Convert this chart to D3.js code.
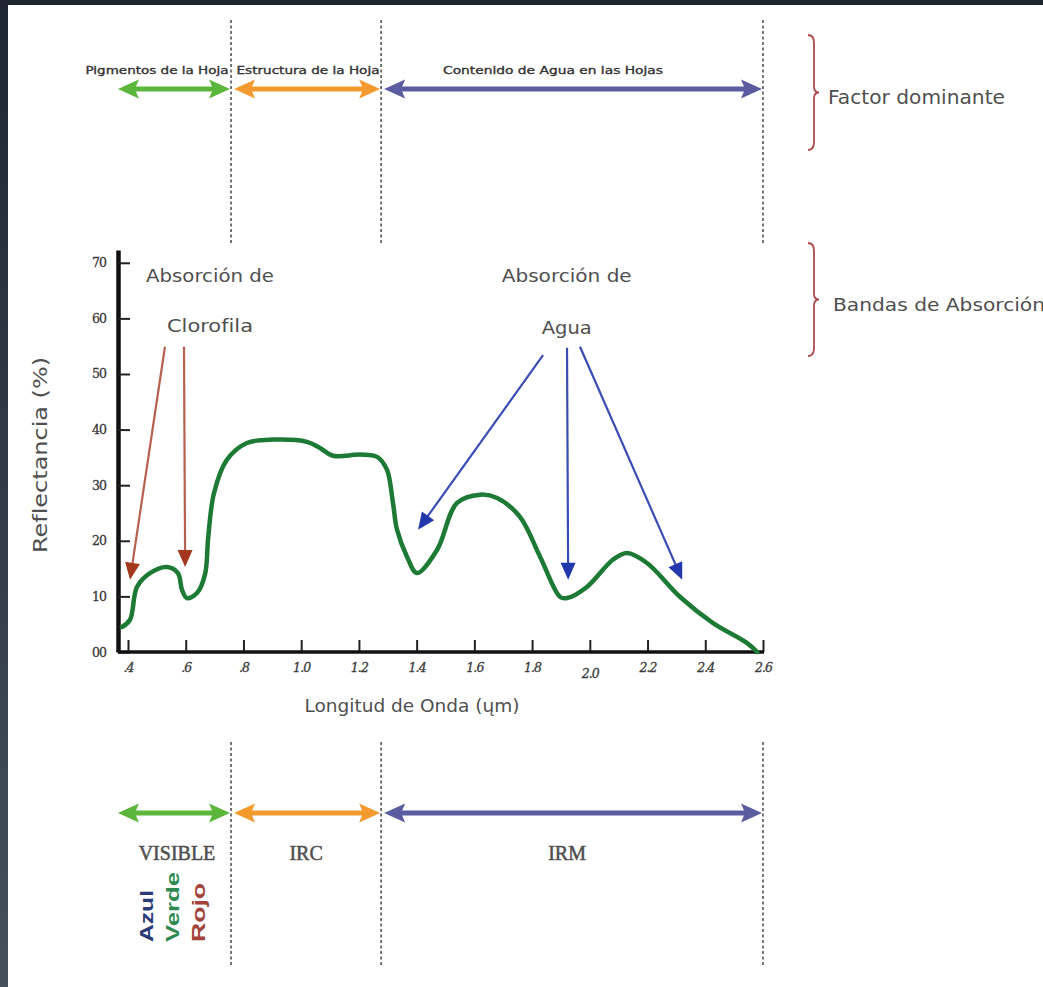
<!doctype html>
<html lang="es">
<head>
<meta charset="UTF-8">
<title>Firma espectral de la vegetación</title>
<script src="https://d3js.org/d3.v7.min.js"></script>
<style>
  html, body { margin: 0; padding: 0; background: #fff; }
  svg { display: block; }
</style>
</head>
<body>
<div id="chart-area"></div>

<script>

// curva de reflectancia (longitud de onda en um, reflectancia en %)
const wavelength  = [0.379, 0.407, 0.431, 0.476, 0.535, 0.573, 0.587, 0.604, 0.639, 0.667, 0.678, 0.698, 0.743, 0.812,
                     0.902, 1.02, 1.065, 1.11, 1.204, 1.263, 1.297, 1.318, 1.332, 1.367, 1.401, 1.471, 1.54, 1.62,
                     1.679, 1.758, 1.828, 1.897, 1.921, 1.99, 2.08, 2.129, 2.198, 2.313, 2.427, 2.545, 2.58];
const reflectance = [4.5, 5.8, 11.7, 14.2, 15.3, 14.2, 11.2, 9.7, 10.6, 14.0, 20.7, 28.6, 34.6, 37.6,
                     38.2, 37.8, 36.7, 35.3, 35.5, 35.1, 32.8, 26.8, 22.0, 17.1, 14.2, 18.4, 26.8, 28.3,
                     27.7, 24.3, 17.1, 9.9, 9.7, 11.7, 16.6, 17.8, 16.0, 9.9, 5.2, 1.6, 0];

const xTicks = [0.4, 0.6, 0.8, 1.0, 1.2, 1.4, 1.6, 1.8, 2.0, 2.2, 2.4, 2.6];
const yTicks = [0, 10, 20, 30, 40, 50, 60, 70];

// regiones del espectro
const regionEdges = [0.365, 0.757, 1.277, 2.6];
const regionNames = ['VISIBLE', 'IRC', 'IRM'];
const factorNames = ['Pigmentos de la Hoja', 'Estructura de la Hoja', 'Contenido de Agua en las Hojas'];
const visibleNames = ['Azul', 'Verde', 'Rojo'];

// flechas de absorcion [longitud de onda, reflectancia]
const chlorophyllFrom = [[0.528, 54.9], [0.594, 54.9]];
const chlorophyllTo   = [[0.407, 13.0], [0.598, 15.3]];
const waterFrom = [[1.838, 53.4], [1.921, 54.7], [1.966, 54.9]];
const waterTo   = [[1.405, 22.0], [1.925, 13.0], [2.32, 13.0]];

const W = 1043, H = 987;
const regionColors = ['#5bb63c', '#f29a2e', '#5b5b9f'];
const visibleColors = ['#2b3b78', '#2f8a52', '#a3443a'];
const textGray = '#4f4f4f';

const svg = d3.select('#chart-area')
    .append('svg')
    .attr('width', W)
    .attr('height', H)
    .style('font-family', '"DejaVu Sans", Verdana, sans-serif');

svg.append('rect').attr('width', W).attr('height', H).attr('fill', '#fff');

// marco oscuro (captura de pantalla)
const grad = svg.append('defs').append('linearGradient')
    .attr('id', 'frame').attr('x1', 0).attr('y1', 0).attr('x2', 0).attr('y2', 1);
grad.append('stop').attr('offset', 0).attr('stop-color', '#1f262f');
grad.append('stop').attr('offset', 1).attr('stop-color', '#45505a');
svg.append('rect').attr('x', 0).attr('y', 0).attr('width', 8).attr('height', H).attr('fill', 'url(#frame)');
svg.append('rect').attr('x', 0).attr('y', 0).attr('width', W).attr('height', 5).attr('fill', '#1f262f');

const x = d3.scaleLinear().domain([0.4, 2.6]).range([128, 763]);
const y = d3.scaleLinear().domain([0, 72.3]).range([652, 250]);
const axisX = 118;

// texto estirado al ancho que ocupa en la imagen
function label(g, txt, xx, yy, size, len, anchor) {
    return g.append('text')
        .attr('x', xx).attr('y', yy)
        .attr('text-anchor', anchor || 'middle')
        .attr('font-size', size)
        .attr('fill', textGray)
        .attr('textLength', len)
        .attr('lengthAdjust', 'spacingAndGlyphs')
        .text(txt);
}

// ---------- helpers de flechas ----------
function head(g, tip, from, len, wid, notch, color) {
    const dx = tip[0] - from[0], dy = tip[1] - from[1];
    const d = Math.hypot(dx, dy), ux = dx / d, uy = dy / d;
    const px = -uy, py = ux;
    const bx = tip[0] - ux * len, by = tip[1] - uy * len;
    const pts = [
        [tip[0], tip[1]],
        [bx + px * wid / 2, by + py * wid / 2],
        [tip[0] - ux * (len - notch), tip[1] - uy * (len - notch)],
        [bx - px * wid / 2, by - py * wid / 2]
    ];
    g.append('path').attr('d', 'M' + pts.join('L') + 'Z').attr('fill', color);
}

function arrow(g, from, to, color, headColor, lw, len, wid) {
    const dx = to[0] - from[0], dy = to[1] - from[1];
    const d = Math.hypot(dx, dy);
    const ex = to[0] - dx / d * (len - 2), ey = to[1] - dy / d * (len - 2);
    g.append('line')
        .attr('x1', from[0]).attr('y1', from[1]).attr('x2', ex).attr('y2', ey)
        .attr('stroke', color).attr('stroke-width', lw);
    head(g, to, from, len, wid, 0, headColor);
}

function doubleArrow(g, x1, x2, yy, color) {
    g.append('line')
        .attr('x1', x1 + 14).attr('x2', x2 - 14).attr('y1', yy).attr('y2', yy)
        .attr('stroke', color).attr('stroke-width', 5);
    head(g, [x1, yy], [x2, yy], 21, 19, 4, color);
    head(g, [x2, yy], [x1, yy], 21, 19, 4, color);
}

// ---------- lineas discontinuas verticales ----------
const dashes = svg.append('g')
    .attr('stroke', '#555').attr('stroke-width', 1.6).attr('stroke-dasharray', '3,2.5');
regionEdges.slice(1).forEach(e => {
    dashes.append('line').attr('x1', x(e)).attr('x2', x(e)).attr('y1', 20).attr('y2', 245);
    dashes.append('line').attr('x1', x(e)).attr('x2', x(e)).attr('y1', 742).attr('y2', 966);
});

// ---------- flechas superiores (factor dominante) ----------
const topG = svg.append('g');
const factorPos = [[157, 143], [308, 143], [553, 220]];
factorNames.forEach((name, i) => {
    const a = x(regionEdges[i]), b = x(regionEdges[i + 1]);
    doubleArrow(topG, a + (i ? 3 : 0), b - 1, 89, regionColors[i]);
    label(topG, name, factorPos[i][0], 74, 11, factorPos[i][1])
        .attr('fill', '#333')
        .attr('stroke', '#333').attr('stroke-width', 0.35);
});

// ---------- flechas inferiores (regiones) ----------
const botG = svg.append('g');
regionNames.forEach((name, i) => {
    const a = x(regionEdges[i]), b = x(regionEdges[i + 1]);
    doubleArrow(botG, a + (i ? 3 : 0), b - 1, 813, regionColors[i]);
    botG.append('text')
        .attr('x', i === 0 ? 177 : (a + b) / 2 - (i === 2 ? 5 : 0))
        .attr('y', 860)
        .attr('text-anchor', 'middle')
        .attr('font-family', '"Liberation Serif", "DejaVu Serif", serif')
        .attr('font-size', 20)
        .attr('fill', textGray)
        .attr('stroke', textGray).attr('stroke-width', 0.5)
        .text(name);
});

const visibleLen = [52, 70, 59];
visibleNames.forEach((name, i) => {
    botG.append('text')
        .attr('transform', `translate(${153 + i * 26},942) rotate(-90)`)
        .attr('font-family', '"Liberation Sans", Arial, sans-serif')
        .attr('font-weight', 'bold')
        .attr('font-size', 19)
        .attr('fill', visibleColors[i])
        .attr('textLength', visibleLen[i])
        .attr('lengthAdjust', 'spacingAndGlyphs')
        .text(name);
});

// ---------- llaves a la derecha ----------
function brace(g, bx, y0, y1) {
    const ym = (y0 + y1) / 2;
    const p = `M${bx - 4},${y0} Q${bx + 2},${y0} ${bx + 2},${y0 + 8} L${bx + 2},${ym - 6}` +
              ` Q${bx + 2},${ym} ${bx + 7},${ym} Q${bx + 2},${ym} ${bx + 2},${ym + 6}` +
              ` L${bx + 2},${y1 - 8} Q${bx + 2},${y1} ${bx - 4},${y1}`;
    g.append('path').attr('d', p).attr('fill', 'none')
        .attr('stroke', '#b04a4a').attr('stroke-width', 1.8);
}
const right = svg.append('g');
brace(right, 812, 35, 150);
brace(right, 812, 243, 356);
label(right, 'Factor dominante', 828, 104, 19, 177, 'start');
label(right, 'Bandas de Absorción', 833, 311, 17.5, 212, 'start');

// ---------- ejes ----------
const yAxis = d3.axisLeft(y)
    .tickValues(yTicks)
    .tickSize(-12)
    .tickSizeOuter(0)
    .tickPadding(12)
    .tickFormat(d => d === 0 ? '00' : d);

const gy = svg.append('g')
    .attr('transform', `translate(${axisX},0)`)
    .call(yAxis);
gy.select('.domain').attr('stroke', '#111').attr('stroke-width', 4.5);
gy.selectAll('.tick line').attr('stroke', '#222').attr('stroke-width', 2);
gy.selectAll('.tick text')
    .attr('font-family', '"DejaVu Serif", serif')
    .attr('font-size', 12.5).attr('fill', '#3a3a3a').attr('letter-spacing', -0.9)
    .attr('stroke', '#3a3a3a').attr('stroke-width', 0.3);

const xAxis = d3.axisBottom(x)
    .tickValues(xTicks)
    .tickSize(-12)
    .tickSizeOuter(0)
    .tickPadding(11)
    .tickFormat(d => d < 1 ? '.' + Math.round(d * 10) : d3.format('.1f')(d));

const gx = svg.append('g')
    .attr('transform', `translate(0,${y(0)})`)
    .call(xAxis);
gx.select('.domain').remove();
gx.append('line').attr('x1', axisX).attr('x2', x(2.6) + 1).attr('y1', 0).attr('y2', 0)
    .attr('stroke', '#111').attr('stroke-width', 3.5);
gx.selectAll('.tick line').attr('stroke', '#222').attr('stroke-width', 2);
gx.selectAll('.tick text')
    .attr('font-family', '"DejaVu Serif", serif')
    .attr('font-style', 'italic')
    .attr('font-size', 12.5).attr('fill', '#3a3a3a').attr('letter-spacing', -0.9)
    .attr('stroke', '#3a3a3a').attr('stroke-width', 0.3)
    .attr('dy', d => d === 2.0 ? '1.2em' : '0.71em');

label(svg, 'Reflectancia (%)', 0, 0, 19, 196)
    .attr('transform', `translate(47,455) rotate(-90)`);

label(svg, 'Longitud de Onda (ųm)', 412, 712, 18, 215);

// ---------- curva ----------
const pts = wavelength.map((w, i) => [w, reflectance[i]]);
const line = d3.line()
    .x(d => x(d[0]))
    .y(d => y(d[1]))
    .curve(d3.curveCatmullRom.alpha(0.5));

svg.append('path')
    .datum(pts)
    .attr('d', line)
    .attr('fill', 'none')
    .attr('stroke', '#1c7a34')
    .attr('stroke-width', 4.5)
    .attr('stroke-linejoin', 'round')
    .attr('stroke-linecap', 'round');

// ---------- anotaciones de absorcion ----------
const ann = svg.append('g');
const P = d => [x(d[0]), y(d[1])];

chlorophyllFrom.forEach((f, i) =>
    arrow(ann, P(f), P(chlorophyllTo[i]), '#b8604f', '#a3381e', 2.2, 17, 15));
waterFrom.forEach((f, i) =>
    arrow(ann, P(f), P(waterTo[i]), '#3a4db3', '#2337ad', 2.2, 17, 15));

const annText = [
    ['Absorción de', 0.684, 67.6, 128],
    ['Clorofila', 0.684, 58.6, 86],
    ['Absorción de', 1.92, 67.6, 130],
    ['Agua', 1.92, 58.3, 50]
];
annText.forEach(t => {
    label(ann, t[0], x(t[1]), y(t[2]), 18, t[3]).attr('dy', '0.35em');
});

</script>
</body>
</html>
